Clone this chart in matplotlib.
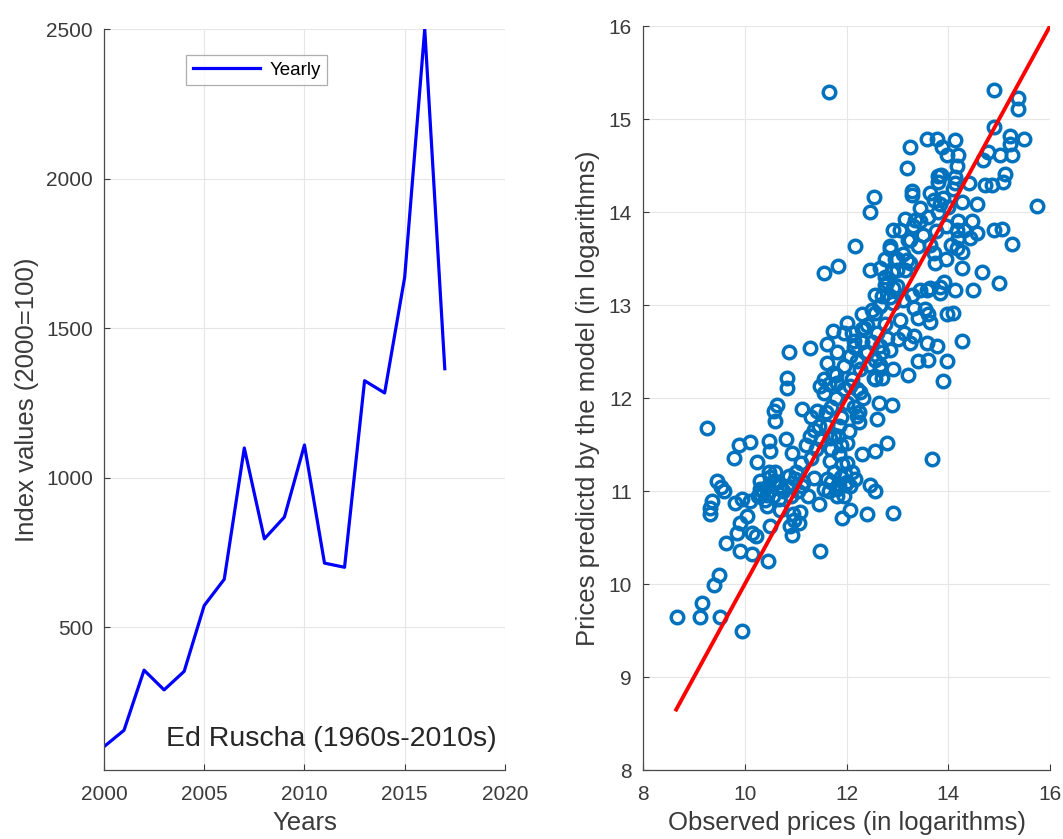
import matplotlib
matplotlib.use("Agg")
import matplotlib.pyplot as plt
import numpy as np

plt.rcParams['font.family'] = ['Liberation Sans', 'DejaVu Sans']

# ---- Left panel data ----
years = [2000, 2001, 2002, 2003, 2004, 2005, 2006, 2007, 2008, 2009,
         2010, 2011, 2012, 2013, 2014, 2015, 2016, 2017]
index_values = [100, 155, 356, 290, 352, 572, 660, 1099, 795, 868,
                1109, 714, 700, 1324, 1283, 1670, 2500, 1364]
left_yticks = [500, 1000, 1500, 2000, 2500]
left_xticks = [2000, 2005, 2010, 2015, 2020]

# ---- Right panel data (observed, predicted) ----
observed = [
    11.66, 14.90, 15.38, 15.38, 15.48, 15.21, 15.21, 14.89, 14.79, 15.02, 15.25, 14.69,
    13.58, 13.77, 14.13, 13.25, 13.87, 13.97, 14.20, 14.17, 13.18, 13.80, 13.80, 14.13,
    14.13, 14.40, 14.72, 14.85, 15.12, 15.08, 13.28, 13.28, 12.53, 12.47, 13.45, 13.71,
    13.84, 14.27, 14.56, 15.74, 13.15, 13.35, 12.92, 13.05, 14.20, 14.46, 14.17, 14.30,
    14.89, 15.05, 14.56, 14.20, 14.43, 15.25, 12.17, 12.86, 13.25, 13.41, 14.17, 14.27,
    13.64, 13.71, 12.76, 12.99, 13.18, 13.95, 13.74, 11.55, 11.84, 12.47, 12.66, 12.99,
    13.15, 14.27, 14.66, 14.99, 13.92, 14.13, 14.49, 13.84, 13.64, 13.45, 12.76, 12.92,
    12.56, 12.86, 13.28, 13.58, 13.84, 12.66, 12.56, 12.92, 13.32, 13.55, 13.61, 13.97,
    14.10, 13.41, 13.64, 13.05, 12.40, 12.01, 12.30, 11.74, 11.94, 13.12, 13.32, 13.02,
    13.25, 13.58, 13.77, 14.27, 11.29, 11.61, 12.14, 12.66, 12.86, 11.81, 12.07, 12.37,
    10.86, 11.61, 11.94, 12.27, 12.56, 13.41, 13.61, 13.97, 11.74, 12.66, 13.21, 12.92,
    10.83, 10.83, 11.55, 11.48, 11.81, 12.07, 12.27, 12.53, 12.69, 13.90, 10.63, 10.57,
    11.12, 11.42, 12.63, 12.89, 12.33, 12.20,
    9.26, 10.60, 12.60, 12.24, 9.88, 10.11, 10.47, 10.80, 9.78, 10.24, 10.50, 10.93,
    11.29, 11.35, 11.61, 11.68, 11.84, 12.01, 12.30, 12.56, 12.79, 13.68, 9.46, 9.53,
    9.59, 9.36, 9.32, 9.32, 9.81, 9.94, 10.11, 10.30, 10.30, 10.47, 10.57, 10.70,
    10.44, 10.67, 10.44, 10.86, 10.99, 11.05, 11.12, 11.25, 11.35, 11.45, 11.68, 11.61,
    11.55, 11.81, 11.81, 11.91, 11.97, 11.97, 12.07, 12.17, 12.47, 12.56, 11.91, 12.07,
    12.40, 12.92, 9.91, 10.04, 10.14, 10.21, 9.84, 9.62, 9.91, 10.14, 10.50, 10.89,
    10.96, 11.06, 11.09, 10.93, 10.46, 11.48, 9.39, 9.49, 9.16, 8.67, 9.11, 9.52, 9.94,
    11.70, 11.80, 11.90, 12.00, 11.75, 11.85, 12.05, 11.95, 11.65, 11.80, 12.10, 12.15,
    11.70, 11.90, 12.00, 11.60, 12.20, 11.55, 12.25, 11.85,
    12.40, 12.50, 12.60, 12.30, 12.45, 12.70, 12.55, 12.20, 12.35, 12.15, 12.65, 12.80,
    12.30, 12.50, 12.10, 12.75,
    12.70, 12.80, 12.90, 12.65, 12.95, 13.10, 12.85, 13.20, 13.00, 12.75, 13.10, 13.25,
    13.30, 13.45, 13.60, 13.50,
    13.80, 13.90, 14.00, 13.95, 14.10, 13.75, 14.05, 13.65, 13.85,
    10.35, 10.45, 10.55, 10.65, 10.75, 10.85, 10.40, 10.60, 10.90, 10.50, 11.00, 11.15,
    10.25, 10.70, 10.95,
    11.70, 11.75, 11.85, 11.90, 11.65, 12.00, 11.95, 12.10,
    11.20, 11.30, 11.40, 11.10, 11.45, 11.30, 11.50,
]
predicted = [
    15.29, 15.31, 15.23, 15.11, 14.79, 14.82, 14.73, 14.91, 14.64, 14.61, 14.61, 14.56,
    14.79, 14.79, 14.77, 14.70, 14.70, 14.61, 14.61, 14.50, 14.47, 14.39, 14.32, 14.38,
    14.31, 14.31, 14.29, 14.29, 14.41, 14.32, 14.23, 14.18, 14.16, 14.00, 14.04, 14.13,
    14.09, 14.11, 14.09, 14.07, 13.93, 13.91, 13.81, 13.81, 13.90, 13.90, 13.81, 13.81,
    13.81, 13.82, 13.77, 13.72, 13.72, 13.66, 13.63, 13.63, 13.70, 13.63, 13.61, 13.57,
    13.65, 13.56, 13.50, 13.50, 13.48, 13.50, 13.45, 13.34, 13.42, 13.38, 13.40, 13.38,
    13.38, 13.40, 13.35, 13.24, 13.25, 13.16, 13.16, 13.19, 13.18, 13.16, 13.22, 13.18,
    13.11, 13.09, 13.11, 13.16, 13.13, 12.99, 12.91, 13.02, 12.97, 12.96, 12.90, 12.90,
    12.91, 12.86, 12.82, 12.84, 12.79, 12.81, 12.74, 12.72, 12.70, 12.70, 12.67, 12.63,
    12.59, 12.59, 12.56, 12.61, 12.54, 12.58, 12.61, 12.56, 12.52, 12.49, 12.45, 12.49,
    12.50, 12.38, 12.34, 12.31, 12.41, 12.40, 12.41, 12.40, 12.27, 12.31, 12.25, 12.31,
    12.22, 12.11, 12.20, 12.13, 12.16, 12.13, 12.06, 12.22, 12.22, 12.18, 11.93, 11.86,
    11.88, 11.86, 11.95, 11.93, 12.00, 11.81,
    11.68, 11.75, 11.77, 11.74, 11.50, 11.53, 11.54, 11.56, 11.36, 11.31, 11.43, 11.41,
    11.59, 11.66, 11.70, 11.57, 11.59, 11.52, 11.40, 11.43, 11.52, 11.34, 11.11, 11.04,
    11.00, 10.89, 10.82, 10.75, 10.87, 10.91, 10.89, 11.11, 11.02, 11.20, 11.11, 11.05,
    10.96, 10.91, 10.84, 11.16, 11.13, 11.00, 11.05, 10.95, 11.14, 10.86, 11.32, 11.13,
    11.02, 11.02, 10.95, 11.29, 11.18, 11.07, 11.05, 11.13, 11.07, 11.00, 10.71, 10.80,
    10.75, 10.76, 10.66, 10.73, 10.55, 10.52, 10.55, 10.44, 10.35, 10.32, 10.62, 10.62,
    10.69, 10.66, 10.77, 10.53, 10.25, 10.36, 9.99, 10.10, 9.80, 9.65, 9.65, 9.65, 9.49,
    11.90, 12.00, 11.80, 11.95, 11.60, 11.70, 11.65, 12.10, 12.15, 12.25, 12.20, 11.90,
    11.45, 11.50, 11.30, 11.85, 12.10, 12.05, 11.85, 11.40,
    12.50, 12.60, 12.70, 12.60, 12.35, 12.50, 12.20, 12.40, 12.75, 12.55, 12.35, 12.65,
    12.90, 12.95, 12.70, 12.80,
    13.10, 13.25, 13.35, 13.00, 13.50, 13.55, 13.60, 13.70, 13.20, 13.30, 13.05, 13.45,
    13.85, 13.90, 13.95, 13.75,
    14.00, 14.15, 14.05, 13.85, 14.25, 13.80, 13.65, 14.20, 14.40,
    11.00, 11.05, 10.95, 11.10, 11.00, 11.05, 10.90, 11.20, 10.95, 11.15, 11.20, 11.10,
    10.95, 10.80, 10.75,
    11.10, 11.20, 11.05, 11.15, 11.00, 11.10, 10.95, 11.20,
    11.50, 11.35, 11.45, 11.30, 11.70, 11.80, 11.55,
]
fit_x = [8.65, 16.0]
fit_y = [8.65, 16.0]
right_ticks = [8, 10, 12, 14, 16]
right_yticks = [8, 9, 10, 11, 12, 13, 14, 15, 16]

fig = plt.figure(figsize=(10.63, 8.39), dpi=100)
ax1 = fig.add_axes([0.0978, 0.0822, 0.3772, 0.8832])
ax2 = fig.add_axes([0.605, 0.0822, 0.3828, 0.8868])

dark = '#262626'
gridc = '#e6e6e6'

def style(ax):
    for s in ['top', 'right']:
        ax.spines[s].set_visible(False)
    for s in ['left', 'bottom']:
        ax.spines[s].set_color('#4a4a4a')
        ax.spines[s].set_linewidth(0.9)
    ax.tick_params(direction='in', colors='#3a3a3a', labelsize=15, length=4, width=0.8)
    ax.tick_params(axis='x', pad=11)
    ax.tick_params(axis='y', pad=8)
    ax.grid(True, color=gridc, linewidth=0.8)
    ax.set_axisbelow(True)

# Left
ax1.plot(years, index_values, color='#0000ff', linewidth=2.3, label='Yearly')
ax1.set_xlim(2000, 2020)
ax1.set_ylim(22, 2500)
ax1.set_xticks(left_xticks)
ax1.set_yticks(left_yticks)
style(ax1)
ax1.set_xlabel('Years', fontsize=18.5, color='#3a3a3a', labelpad=5)
ax1.set_ylabel('Index values (2000=100)', fontsize=18.5, color='#3a3a3a', labelpad=5)
leg = ax1.legend(loc='upper left', bbox_to_anchor=(0.2045, 0.965), fontsize=13.5,
                 handlelength=3.6, frameon=True, fancybox=False, edgecolor='#9a9a9a',
                 borderpad=0.35, handletextpad=0.5, borderaxespad=0)
leg.get_frame().set_linewidth(0.9)
ax1.text(0.98, 0.042, 'Ed Ruscha (1960s-2010s)', transform=ax1.transAxes,
         ha='right', va='center', fontsize=20.5, color=dark)

# Right
ax2.plot(observed, predicted, linestyle='none', marker='o', markersize=9,
         markerfacecolor='none', markeredgecolor='#0072BD', markeredgewidth=2.5)
ax2.plot(fit_x, fit_y, color='#ff0000', linewidth=2.8)
ax2.set_xlim(8, 16)
ax2.set_ylim(8, 16)
ax2.set_xticks(right_ticks)
ax2.set_yticks(right_yticks)
style(ax2)
ax2.set_xlabel('Observed prices (in logarithms)', fontsize=18.5, color='#3a3a3a', labelpad=5)
ax2.set_ylabel('Prices predictd by the model (in logarithms)', fontsize=18.5, color='#3a3a3a', labelpad=6)

fig.savefig('out.png', dpi=100)
